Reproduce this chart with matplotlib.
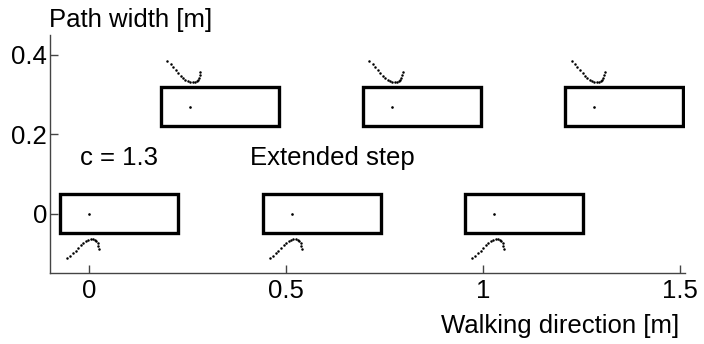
import matplotlib
matplotlib.use("Agg")
import matplotlib.pyplot as plt
from matplotlib.patches import Rectangle

plt.rcParams['font.family'] = ['Liberation Sans', 'DejaVu Sans']

# foot centre positions [m]
lower_x = [0.0, 0.515, 1.028]
lower_y = 0.0
upper_x = [0.256, 0.769, 1.282]
upper_y = 0.27

# foot rectangle relative to centre point
heel_offset = -0.075
foot_length = 0.30
foot_width = 0.10

# swing trajectory samples relative to foot centre (upper feet)
upper_curve_dx = [-0.058, -0.050, -0.043, -0.036, -0.030, -0.024, -0.018, -0.012, -0.006,
                  0.000, 0.006, 0.011, 0.016, 0.020, 0.023, 0.025, 0.026]
upper_curve_dy = [0.114, 0.107, 0.100, 0.092, 0.084, 0.078, 0.072, 0.068, 0.064,
                  0.062, 0.061, 0.062, 0.064, 0.068, 0.073, 0.079, 0.086]
# swing trajectory samples relative to foot centre (lower feet)
lower_curve_dx = [-0.056, -0.049, -0.042, -0.035, -0.028, -0.021, -0.015, -0.009, -0.003,
                  0.003, 0.009, 0.014, 0.018, 0.021, 0.023, 0.024]
lower_curve_dy = [-0.113, -0.107, -0.100, -0.093, -0.086, -0.079, -0.073, -0.069, -0.066,
                  -0.065, -0.065, -0.067, -0.070, -0.075, -0.081, -0.090]

xticks = [0, 0.5, 1, 1.5]
xticklabels = ['0', '0.5', '1', '1.5']
yticks = [0, 0.2, 0.4]
yticklabels = ['0', '0.2', '0.4']

FS = 18.5

fig = plt.figure(figsize=(7.04, 3.44), dpi=100)
ax = fig.add_axes([0.071, 0.206, 0.902, 0.692])

def draw_foot(cx, cy, dxs, dys):
    ax.add_patch(Rectangle((cx + heel_offset, cy - foot_width / 2), foot_length, foot_width,
                           fill=False, edgecolor='black', linewidth=2.4, joinstyle='miter'))
    ax.plot([cx], [cy], 'k.', markersize=1.8)
    ax.plot([cx + d for d in dxs], [cy + d for d in dys], linestyle='none',
            marker='.', markersize=1.6, color='black')

for cx in lower_x:
    draw_foot(cx, lower_y, lower_curve_dx, lower_curve_dy)
for cx in upper_x:
    draw_foot(cx, upper_y, upper_curve_dx, upper_curve_dy)

ax.set_xlim(-0.1, 1.512)
ax.set_ylim(-0.15, 0.45)
ax.set_xticks(xticks)
ax.set_xticklabels(xticklabels)
ax.set_yticks(yticks)
ax.set_yticklabels(yticklabels)
ax.tick_params(direction='in', length=6, width=1, color='#444444', labelsize=FS)
ax.tick_params(axis='x', pad=4)
ax.tick_params(axis='y', pad=2)
for s in ['top', 'right']:
    ax.spines[s].set_visible(False)
for s in ['left', 'bottom']:
    ax.spines[s].set_color('#444444')
    ax.spines[s].set_linewidth(1)

ax.text(-0.023, 0.141, 'c = 1.3', fontsize=FS, va='center', ha='left')
ax.text(0.409, 0.141, 'Extended step', fontsize=FS, va='center', ha='left')

fig.text(49 / 704, 1 - 20 / 344, 'Path width [m]', fontsize=FS, ha='left', va='center')
fig.text(679 / 704, 1 - 326 / 344, 'Walking direction [m]', fontsize=FS, ha='right', va='center')

fig.savefig('out.png', dpi=100, facecolor='white')
